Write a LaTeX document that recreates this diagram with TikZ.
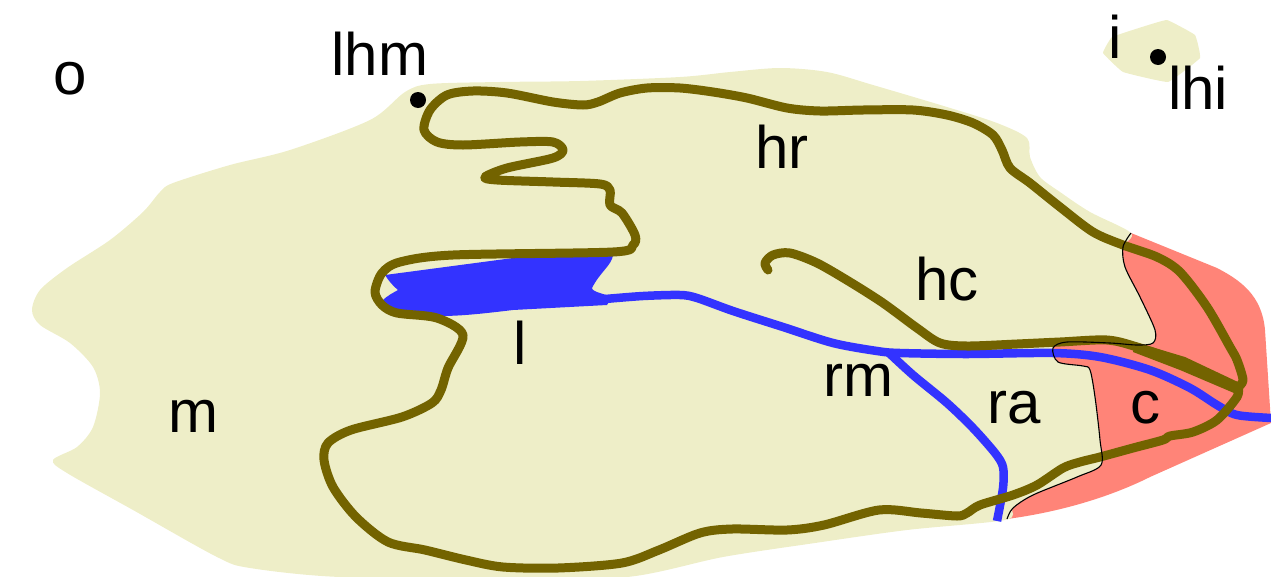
\documentclass[tikz,border=0pt]{standalone}
\usepackage{fontspec}
\setmainfont{Liberation Sans}
\definecolor{paleY}{HTML}{EEEEC8}
\definecolor{redR}{HTML}{FF8478}
\definecolor{brownL}{HTML}{736300}
\definecolor{blueL}{HTML}{3333FF}
\tikzset{
  lab/.style={anchor=base,inner sep=0pt,font=\fontsize{60}{62}\selectfont,text=black},
  brownline/.style={draw=brownL,line width=9pt,line join=round,line cap=round},
  blueline/.style={draw=blueL,line width=8.5pt,line join=round},
  dotn/.style={circle,fill=black,inner sep=0pt,minimum size=16pt}
}
\begin{document}
\begin{tikzpicture}[x=1pt,y=-1pt]
\useasboundingbox (0,0) rectangle (1271,576);
% red
\fill[redR] (1100,290) -- (1131,233) -- (1217,268) .. controls (1240,280) and (1262,295) .. (1265,330) -- (1271,423) -- (1150,477) .. controls (1110,497) and (1060,512) .. (1007,519) -- (1000,450) -- (1050,350) -- cycle;
% yellow
\fill[paleY] plot[smooth cycle,tension=0.5] coordinates {(32,310)(40,290)(67,268)(110,240)(143,212)(160,192)(173,183)(230,165)(290,150)(370,120)(405,92)(430,84)(500,82)(580,81)(680,77)(730,72)(780,68)(827,72)(873,85)(947,107)(997,123)(1027,138)(1030,157)(1040,177)(1060,192)(1090,212)(1131,233)(1123,247)(1125,267)(1140,297)(1155,330)(1153,343)(1137,345)(1110,343)(1067,342)(1053,348)(1058,362)(1083,366)(1090,370)(1095,397)(1100,440)(1101,465)(1077,477)(1033,495)(1013,508)(1005,520)(907,530)(815,543)(723,557)(627,577)(500,578)(340,577)(250,568)(217,557)(133,510)(67,473)(53,460)(77,447)(93,427)(100,393)(93,367)(70,343)(40,325)};
% lake
\fill[blueL] (385,275) -- (513,258) -- (613,255) .. controls (612,265) and (600,272) .. (592,288) .. controls (592,292) and (605,294) .. (612,297) -- (607,305) -- (513,310) .. controls (480,314) and (460,316) .. (440,316) .. controls (420,316) and (395,316) .. (382,301) .. controls (388,295) and (393,293) .. (398,290) .. controls (393,286) and (388,280) .. (385,275) -- cycle;
% blue lines
\draw[blueline] plot[smooth,tension=0.5] coordinates {(1272,418)(1237,415)(1217,405)(1190,388)(1150,370)(1100,357)(1053,353)(967,354)(900,353)(877,351)(833,343)(783,327)(733,311)(697,298)(680,295)(643,296)(605,299)};
\draw[blueline] plot[smooth,tension=0.5] coordinates {(888,352)(913,375)(947,403)(973,428)(995,453)(1003,467)(1003,488)(997,521)};
% brown
\draw[brownline] plot[smooth,tension=0.5] coordinates {(1238,387)(1243,380)(1237,360)(1230,347)(1207,307)(1180,272)(1157,257)(1123,245)(1093,232)(1060,207)(1030,183)(1010,168)(1002,150)(993,135)(973,123)(947,115)(913,110)(863,110)(820,111)(787,108)(747,98)(713,92)(680,88)(647,88)(620,93)(598,102)(583,105)(553,102)(507,93)(473,91)(447,95)(430,110)(424,130)(437,142)(463,145)(520,142)(553,142)(563,150)(553,158)(507,168)(485,177)(497,180)(553,182)(600,184)(610,190)(610,205)(622,213)(635,235)(633,245)(613,252)(453,255)(400,262)(382,273)(375,292)(382,305)(397,313)(437,318)(463,335)(448,368)(441,390)(432,403)(402,417)(351,430)(328,443)(324,460)(333,487)(356,517)(388,542)(425,550)(466,560)(503,567)(558,568)(622,563)(659,550)(700,533)(732,529)(787,530)(824,525)(879,510)(921,513)(957,516)(967,513)(980,505)(1013,495)(1037,485)(1063,468)(1080,462)(1100,457)(1133,448)(1163,440)(1170,436)(1193,432)(1217,420)(1237,397)(1238,387)};
\draw[brownline] plot[smooth,tension=0.5] coordinates {(768,270)(765,263)(773,255)(790,253)(817,263)(850,282)(883,303)(917,328)(940,343)(967,346)(1017,344)(1060,342)(1107,340)(1137,347)(1183,363)(1237,387)};
\fill[brownL] (1135,342) -- (1185,357) -- (1240,383) -- (1234,393) -- (1180,370) -- (1133,352) -- cycle;
% boundary
\draw[black,line width=1.1pt] plot[smooth,tension=0.5] coordinates {(1131,233)(1123,247)(1125,267)(1140,297)(1155,330)(1153,343)(1137,345)(1110,343)(1067,342)(1053,348)(1058,362)(1083,366)(1090,370)(1095,397)(1100,440)(1101,465)(1077,477)(1033,495)(1013,508)(1007,519)};
% island
\fill[paleY] plot[smooth cycle,tension=0.15] coordinates {(1103,53)(1112,37)(1142,27)(1167,20)(1195,35)(1200,58)(1168,82)(1123,72)};
% dots
\node[dotn] (lhmdot) at (418,100) {};
\node[dotn] (lhidot) at (1158,57) {};
% labels
\node[lab] (o) at (70,94) {o};
\node[lab] (lhm) at (380,75) {lhm};
\node[lab] (hr) at (782,168) {hr};
\node[lab] (hc) at (947,300) {hc};
\node[lab] (l) at (520,364) {l};
\node[lab] (rm) at (858,396) {rm};
\node[lab] (ra) at (1014,423) {ra};
\node[lab] (c) at (1145,423) {c};
\node[lab] (m) at (193,432) {m};
\node[lab] (i) at (1115,58) {i};
\node[lab] (lhi) at (1198,109) {lhi};
\end{tikzpicture}
\end{document}
